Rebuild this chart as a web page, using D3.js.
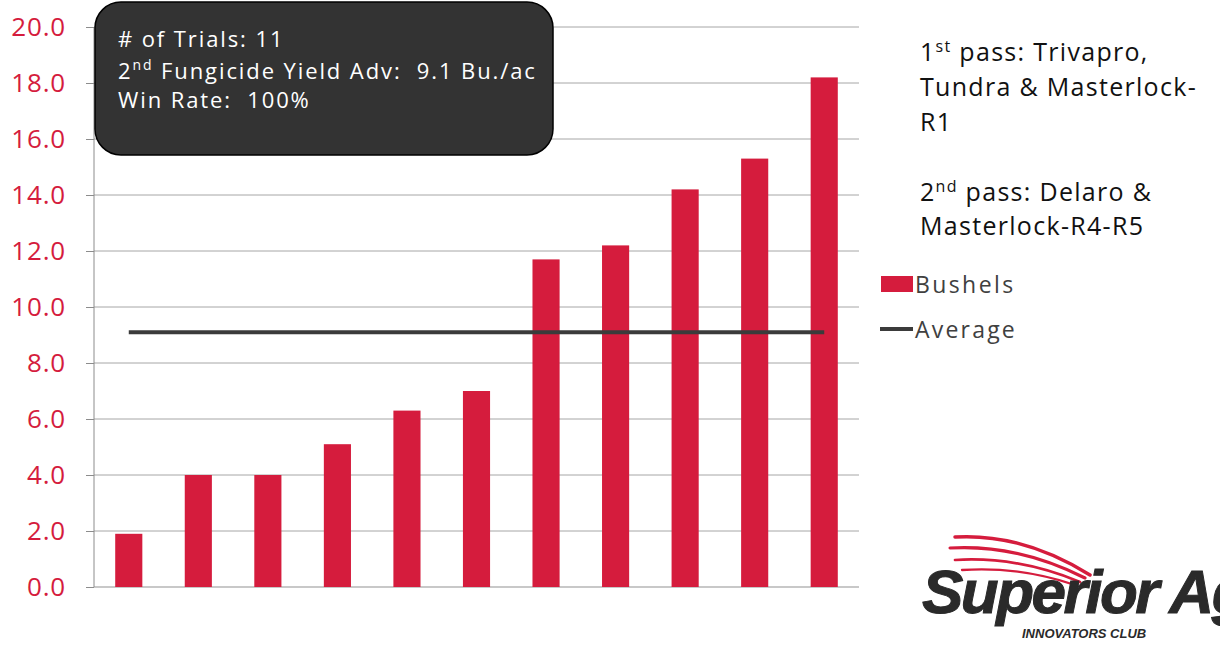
<!DOCTYPE html>
<html><head><meta charset="utf-8">
<script src="https://cdn.jsdelivr.net/npm/d3@7"></script>
<style>body{margin:0;background:#fff}svg{display:block}text{white-space:pre}</style>
</head><body>
<svg id="c" width="1220" height="646"></svg>
<script>
const categories = ["T1","T2","T3","T4","T5","T6","T7","T8","T9","T10","T11"];
const bushels = [1.9, 4.0, 4.0, 5.1, 6.3, 7.0, 11.7, 12.2, 14.2, 15.3, 18.2];
const averageValue = 9.1;
const yTicks = [0,2,4,6,8,10,12,14,16,18,20];
const boxLines = ["# of Trials: 11", "2nd Fungicide Yield Adv:  9.1 Bu./ac", "Win Rate:  100%"];
const notes = ["1st pass: Trivapro,", "Tundra & Masterlock-", "R1", "", "2nd pass: Delaro &", "Masterlock-R4-R5"];
const legendItems = ["Bushels", "Average"];

const svg = d3.select("#c");
const font = "'Open Sans', sans-serif";
const red = "#d51c3d";
const x = d3.scaleBand().domain(categories).range([94, 859]).paddingInner(0.61).paddingOuter(0.305);
const y = d3.scaleLinear().domain([0,20]).range([587,27]);

// grid
svg.append("g").selectAll("line").data(yTicks).join("line")
  .attr("x1",94).attr("x2",859).attr("y1",d=>y(d)).attr("y2",d=>y(d))
  .attr("stroke",d=>d===0?"#c8c8c8":"#a6a6a6").attr("stroke-width",d=>d===0?2:1);

// axis
const ax = svg.append("g").attr("transform","translate(94,0)")
  .call(d3.axisLeft(y).tickValues(yTicks).tickFormat(d3.format(".1f")).tickSize(8).tickPadding(20));
ax.select(".domain").attr("stroke","#8c8c8c").attr("d","M0,27V587");
ax.selectAll(".tick line").attr("stroke","#8c8c8c");
ax.selectAll("text").attr("fill",red).attr("font-size",26).attr("font-family",font).attr("letter-spacing",0.8);

// bars
svg.append("g").selectAll("rect").data(bushels).join("rect")
  .attr("x",(d,i)=>x(categories[i])).attr("width",x.bandwidth())
  .attr("y",d=>y(d)).attr("height",d=>y(0)-y(d)).attr("fill",red);

// average line
svg.append("line")
  .attr("x1",x(categories[0])+x.bandwidth()/2).attr("x2",x(categories[categories.length-1])+x.bandwidth()/2)
  .attr("y1",y(averageValue)).attr("y2",y(averageValue))
  .attr("stroke","#3b3b3b").attr("stroke-width",4);

// info box
svg.append("rect").attr("x",95).attr("y",2).attr("width",458).attr("height",153).attr("rx",26)
  .attr("fill","#333333").attr("stroke","#000").attr("stroke-width",1.5);
const bt = svg.append("g").attr("font-family",font).attr("font-size",22).attr("fill","#fff");
function supText(g, xPos, yPos, str, supFs){
  const m = str.match(/^(\d)(st|nd|rd|th)(.*)$/);
  const t = g.append("text").attr("x",xPos).attr("y",yPos).attr("xml:space","preserve");
  if(m){
    t.append("tspan").text(m[1]);
    t.append("tspan").attr("dy",-9).attr("font-size",supFs).text(m[2]);
    t.append("tspan").attr("dy",9).text(m[3]);
  } else t.text(str);
  return t;
}
[47,79,108].forEach((yy,i)=>supText(bt,118,yy,boxLines[i],14).attr("letter-spacing",1.9));

// notes
const nt = svg.append("g").attr("font-family",font).attr("font-size",25).attr("fill","#111");
const noteY = [61,96,131,0,201,235];
notes.forEach((s,i)=>{ if(s) supText(nt,920,noteY[i],s,16).attr("letter-spacing",1.3); });

// legend
const lg = svg.append("g").attr("font-family",font).attr("font-size",23).attr("fill","#404040");
lg.append("rect").attr("x",881).attr("y",276).attr("width",32).attr("height",16).attr("fill",red);
lg.append("text").attr("x",915).attr("y",293).attr("letter-spacing",2.4).text(legendItems[0]);
lg.append("line").attr("x1",880).attr("x2",913).attr("y1",329).attr("y2",329).attr("stroke","#3b3b3b").attr("stroke-width",4);
lg.append("text").attr("x",915).attr("y",338).attr("letter-spacing",2.2).text(legendItems[1]);

// logo
const logo = svg.append("g");
[[955,537,1090,575],[950,548,1085,578],[955,560,1080,582],[962,570,1075,585]].forEach(([x1,y1,x2,y2],i)=>{
  logo.append("path").attr("d",`M${x1},${y1} Q${(x1+x2)/2},${y1-4} ${x2},${y2}`)
    .attr("fill","none").attr("stroke","#d51c3d").attr("stroke-width",3.5-i*0.4).attr("stroke-linecap","round");
});
logo.append("text").attr("x",922).attr("y",613).attr("font-family","'Liberation Sans', Arial, sans-serif")
  .attr("font-weight","bold").attr("font-style","italic").attr("font-size",62).attr("letter-spacing",-2.5)
  .attr("fill","#2a2a2a").attr("stroke","#2a2a2a").attr("stroke-width",1).text("Superior Ag");
logo.append("text").attr("x",1022).attr("y",638).attr("font-family","'Liberation Sans', Arial, sans-serif")
  .attr("font-weight","bold").attr("font-style","italic").attr("font-size",13)
  .attr("fill","#2a2a2a").text("INNOVATORS CLUB");
</script>
</body></html>
